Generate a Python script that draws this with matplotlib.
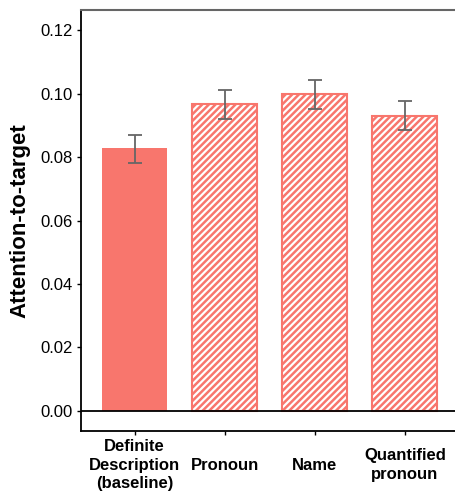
import numpy as np
import matplotlib
matplotlib.use("Agg")
import matplotlib.pyplot as plt

plt.rcParams['font.family'] = ['Liberation Sans', 'DejaVu Sans']
plt.rcParams['hatch.linewidth'] = 1.8

# data
categories = ["Definite\nDescription\n(baseline)", "Pronoun", "Name", "Quantified\npronoun"]
means = [0.0828, 0.0967, 0.0998, 0.0929]
lower = [0.0781, 0.0920, 0.0951, 0.0885]
upper = [0.0869, 0.1011, 0.1043, 0.0976]
hatched = [False, True, True, True]

salmon = '#F8766D'

fig = plt.figure(figsize=(4.56, 4.94), dpi=100)
ax = fig.add_axes([81/456, 63/494, 375/456, 421/494])

x = np.arange(len(categories))
for i in x:
    if hatched[i]:
        ax.bar(i, means[i], width=0.72, color='white', edgecolor=salmon,
               hatch='/////', linewidth=1.5, zorder=2)
    else:
        ax.bar(i, means[i], width=0.72, color=salmon, edgecolor=salmon,
               linewidth=0, zorder=2)

err = [np.array(means) - np.array(lower), np.array(upper) - np.array(means)]
ax.errorbar(x, means, yerr=err, fmt='none', ecolor='#666666', elinewidth=1.3,
            capsize=5, capthick=1.3, zorder=3)

ax.axhline(0, color='black', linewidth=1.3, zorder=4)

ax.set_xlim(-0.594, 3.567)
ax.set_ylim(-0.0063, 0.1263)
ax.set_yticks([0.00, 0.02, 0.04, 0.06, 0.08, 0.10, 0.12])
ax.set_yticklabels(['0.00', '0.02', '0.04', '0.06', '0.08', '0.10', '0.12'])
ax.set_xticks(x)
ax.set_xticklabels(categories, fontweight='bold', fontsize=12, linespacing=1.3,
                   va='center')
ax.tick_params(axis='y', labelsize=12, length=3, width=1, colors='black', pad=3)
ax.tick_params(axis='x', length=3, width=1, pad=21.5)

ax.set_ylabel('Attention-to-target', fontsize=16, fontweight='bold', labelpad=7)

ax.spines['right'].set_visible(False)
ax.spines['top'].set_color('#666666')
ax.spines['top'].set_linewidth(1.5)
ax.spines['left'].set_linewidth(1.3)
ax.spines['bottom'].set_linewidth(1.3)

fig.savefig('out.png', dpi=100)
